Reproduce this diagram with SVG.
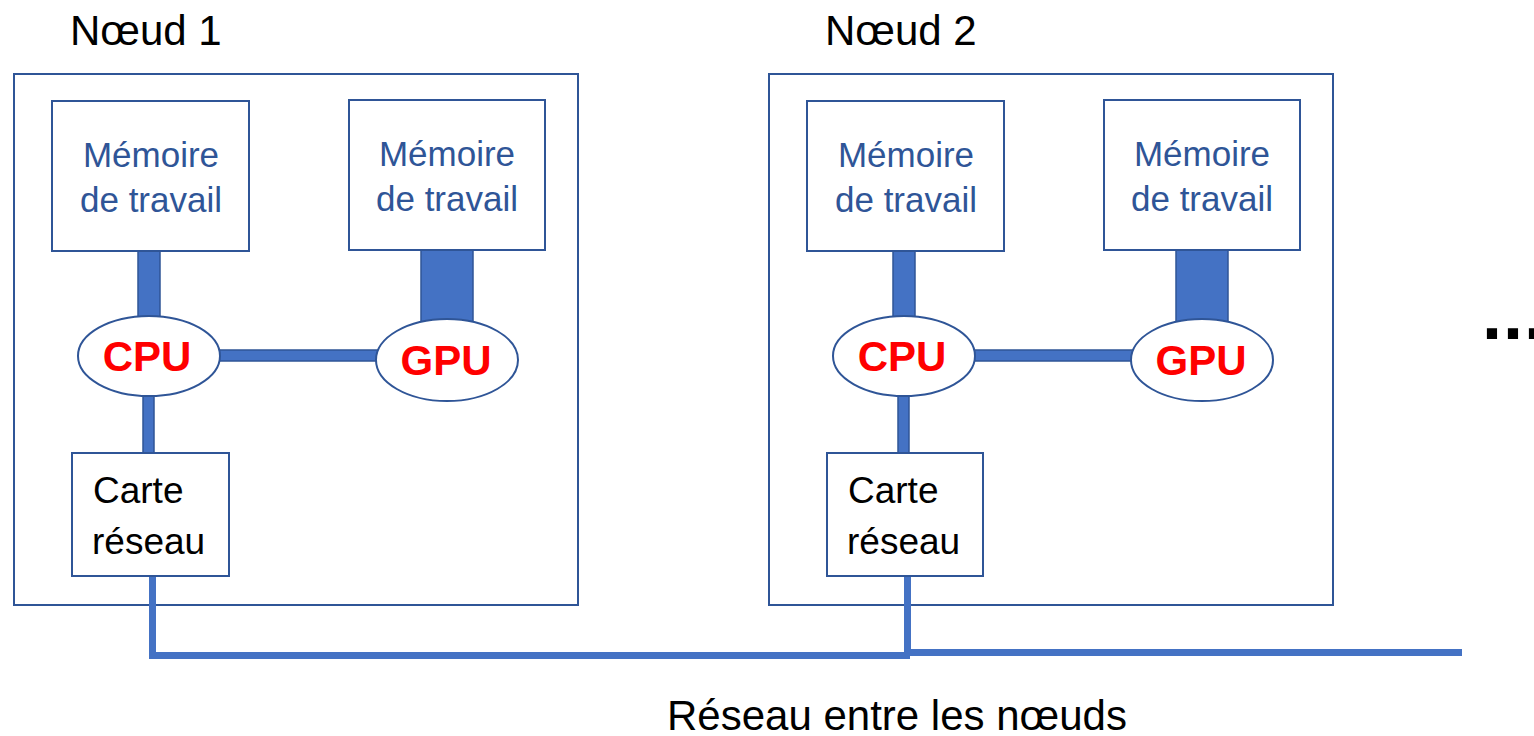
<svg xmlns="http://www.w3.org/2000/svg" width="1534" height="736" viewBox="0 0 1534 736">
<style>
.frame{fill:#fff;stroke:#2F5597;stroke-width:2}
.box{fill:#fff;stroke:#2F5597;stroke-width:2}
.bus{fill:#4472C4;stroke:#2F5597;stroke-width:1.5}
.net{fill:none;stroke:#4472C4;stroke-width:7}
.ell{fill:#fff;stroke:#2F5597;stroke-width:2}
.mem{font-family:"Liberation Sans",Arial,sans-serif;font-size:35px;fill:#2F5597;text-anchor:middle}
.chip{font-family:"Liberation Sans",Arial,sans-serif;font-size:42px;font-weight:bold;fill:#FF0000;text-anchor:middle}
.nic{font-family:"Liberation Sans",Arial,sans-serif;font-size:37px;fill:#000}
.title{font-family:"Liberation Sans",Arial,sans-serif;font-size:42px;fill:#000}
</style>
<g id="node1">
<rect class="frame" x="14" y="74" width="564" height="531"/>
<text class="title" x="70" y="45">Nœud 1</text>
</g>
<g id="node2">
<rect class="frame" x="769" y="74" width="564" height="531"/>
<text class="title" x="825" y="45">Nœud 2</text>
</g>
<g id="connectors">
<rect class="bus" x="138" y="250" width="22" height="72"/>
<rect class="bus" x="421" y="249" width="52" height="78"/>
<rect class="bus" x="216" y="350" width="166" height="11"/>
<rect class="bus" x="143" y="394" width="11" height="60"/>
<rect class="bus" x="893" y="250" width="22" height="72"/>
<rect class="bus" x="1176" y="249" width="52" height="78"/>
<rect class="bus" x="971" y="350" width="166" height="11"/>
<rect class="bus" x="898" y="394" width="11" height="60"/>
<path class="net" d="M152.5 576 V655.5 H910"/>
<path class="net" d="M907.5 576 V652.5 H1462"/>
</g>
<g id="mem-cpu-1">
<rect class="box" x="52" y="101" width="197" height="150"/>
<text class="mem" x="151" y="167">Mémoire</text>
<text class="mem" x="151" y="212">de travail</text>
</g>
<g id="mem-gpu-1">
<rect class="box" x="349" y="100" width="196" height="150"/>
<text class="mem" x="447" y="166">Mémoire</text>
<text class="mem" x="447" y="211">de travail</text>
</g>
<g id="cpu-1">
<ellipse class="ell" cx="149" cy="356" rx="71" ry="40"/>
<text class="chip" x="147" y="371">CPU</text>
</g>
<g id="gpu-1">
<ellipse class="ell" cx="447" cy="360" rx="71" ry="41"/>
<text class="chip" x="446" y="375">GPU</text>
</g>
<g id="nic-1">
<rect class="box" x="72" y="453" width="157" height="123"/>
<text class="nic" x="93" y="503">Carte</text>
<text class="nic" x="92" y="554">réseau</text>
</g>
<g id="mem-cpu-2">
<rect class="box" x="807" y="101" width="197" height="150"/>
<text class="mem" x="906" y="167">Mémoire</text>
<text class="mem" x="906" y="212">de travail</text>
</g>
<g id="mem-gpu-2">
<rect class="box" x="1104" y="100" width="196" height="150"/>
<text class="mem" x="1202" y="166">Mémoire</text>
<text class="mem" x="1202" y="211">de travail</text>
</g>
<g id="cpu-2">
<ellipse class="ell" cx="904" cy="356" rx="71" ry="40"/>
<text class="chip" x="902" y="371">CPU</text>
</g>
<g id="gpu-2">
<ellipse class="ell" cx="1202" cy="360" rx="71" ry="41"/>
<text class="chip" x="1201" y="375">GPU</text>
</g>
<g id="nic-2">
<rect class="box" x="827" y="453" width="156" height="123"/>
<text class="nic" x="848" y="503">Carte</text>
<text class="nic" x="847" y="554">réseau</text>
</g>
<g id="more">
<text x="1482" y="339" style="font-family:'Liberation Sans',Arial,sans-serif;font-size:72px;font-weight:bold;fill:#000;letter-spacing:1px">...</text>
</g>
<g id="network-label">
<text class="title" x="667" y="730">Réseau entre les nœuds</text>
</g>
</svg>
